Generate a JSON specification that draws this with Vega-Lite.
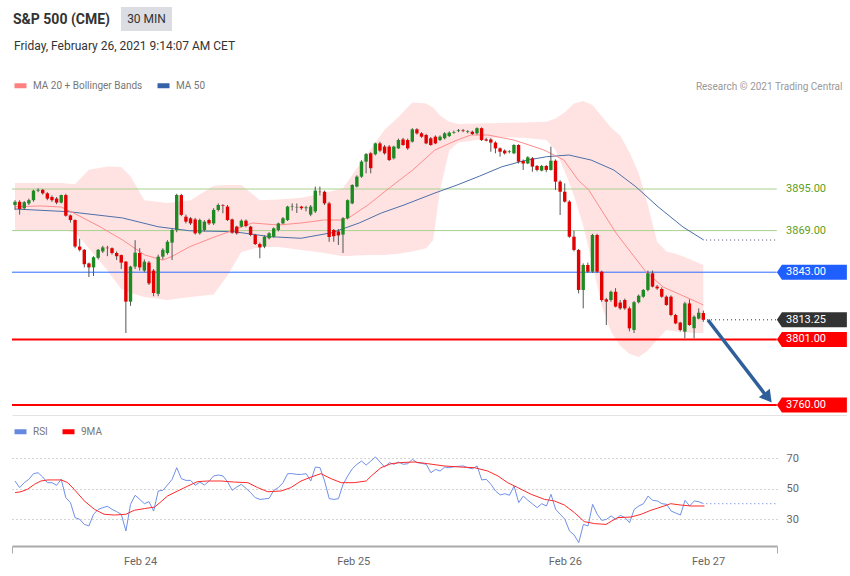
{
  "$schema": "https://vega.github.io/schema/vega-lite/v6.json",
  "background": "white",
  "padding": {"left": 11, "top": 7, "right": 0, "bottom": 0},
  "spacing": 8,
  "config": {"font": "Roboto", "view": {"stroke": null}},
  "resolve": {"scale": {"x": "independent", "y": "independent", "color": "independent"}, "legend": {"color": "independent"}},
  "datasets": {
    "candles": [
      {"i":0,"o":3885,"h":3888,"l":3882,"c":3887},
      {"i":1,"o":3887,"h":3888,"l":3879,"c":3882.5},
      {"i":2,"o":3883,"h":3887.5,"l":3882,"c":3886.7},
      {"i":3,"o":3886,"h":3889,"l":3885,"c":3888},
      {"i":4,"o":3888,"h":3894.5,"l":3887,"c":3894},
      {"i":5,"o":3894,"h":3895.5,"l":3893,"c":3894.5},
      {"i":6,"o":3894.5,"h":3895,"l":3891.5,"c":3892.3},
      {"i":7,"o":3892.3,"h":3893,"l":3888,"c":3889},
      {"i":8,"o":3890,"h":3891,"l":3887,"c":3888},
      {"i":9,"o":3889,"h":3890,"l":3885.5,"c":3886.5},
      {"i":10,"o":3886.5,"h":3891.5,"l":3886,"c":3891.2},
      {"i":11,"o":3891.2,"h":3892,"l":3877.7,"c":3878.3},
      {"i":12,"o":3878.5,"h":3879,"l":3874,"c":3875.6},
      {"i":13,"o":3875.6,"h":3876,"l":3858,"c":3859},
      {"i":14,"o":3859,"h":3864,"l":3856,"c":3857},
      {"i":15,"o":3857,"h":3857.5,"l":3846,"c":3848},
      {"i":16,"o":3848.5,"h":3849,"l":3840,"c":3846},
      {"i":17,"o":3846,"h":3853,"l":3840.6,"c":3852.3},
      {"i":18,"o":3852,"h":3857.5,"l":3851,"c":3857},
      {"i":19,"o":3856,"h":3859.5,"l":3855,"c":3858.5},
      {"i":20,"o":3858.3,"h":3859.5,"l":3853,"c":3858},
      {"i":21,"o":3858,"h":3858.5,"l":3854,"c":3855},
      {"i":22,"o":3855,"h":3856,"l":3850.6,"c":3853},
      {"i":23,"o":3853.7,"h":3854,"l":3845,"c":3849},
      {"i":24,"o":3849.6,"h":3850,"l":3805,"c":3824.6},
      {"i":25,"o":3824.6,"h":3847,"l":3822,"c":3846.5},
      {"i":26,"o":3846.5,"h":3863,"l":3845,"c":3855.2},
      {"i":27,"o":3855,"h":3858,"l":3844,"c":3846},
      {"i":28,"o":3844,"h":3851,"l":3843,"c":3849.6},
      {"i":29,"o":3849,"h":3850,"l":3835,"c":3836},
      {"i":30,"o":3844,"h":3845,"l":3828,"c":3830},
      {"i":31,"o":3829.5,"h":3854,"l":3828,"c":3852.7},
      {"i":32,"o":3852.7,"h":3858,"l":3851,"c":3857},
      {"i":33,"o":3855,"h":3863,"l":3854,"c":3862},
      {"i":34,"o":3861.5,"h":3870,"l":3850.6,"c":3869.4},
      {"i":35,"o":3869.4,"h":3892,"l":3868,"c":3891.25},
      {"i":36,"o":3891.2,"h":3892,"l":3878,"c":3878.8},
      {"i":37,"o":3877.7,"h":3879,"l":3873.5,"c":3874.6},
      {"i":38,"o":3876.7,"h":3877.5,"l":3872.5,"c":3873.5},
      {"i":39,"o":3876,"h":3877,"l":3866.5,"c":3867.3},
      {"i":40,"o":3867.3,"h":3876.5,"l":3866.5,"c":3875.6},
      {"i":41,"o":3869.4,"h":3875.5,"l":3868.5,"c":3874.6},
      {"i":42,"o":3875.6,"h":3876.5,"l":3872.5,"c":3873.5},
      {"i":43,"o":3873.5,"h":3883,"l":3872.5,"c":3881.9},
      {"i":44,"o":3881.9,"h":3886,"l":3881,"c":3885},
      {"i":45,"o":3885,"h":3885.5,"l":3879.8,"c":3884.6},
      {"i":46,"o":3884,"h":3885,"l":3875,"c":3875.6},
      {"i":47,"o":3876,"h":3876.5,"l":3867,"c":3867.7},
      {"i":48,"o":3871.5,"h":3872,"l":3866.5,"c":3867.3},
      {"i":49,"o":3871.5,"h":3876,"l":3871,"c":3875.2},
      {"i":50,"o":3875.2,"h":3876,"l":3871,"c":3871.9},
      {"i":51,"o":3871.5,"h":3872,"l":3865.5,"c":3866.25},
      {"i":52,"o":3866.25,"h":3867,"l":3860,"c":3860.6},
      {"i":53,"o":3860.6,"h":3861.5,"l":3851.7,"c":3858.5},
      {"i":54,"o":3859,"h":3866,"l":3858,"c":3865.2},
      {"i":55,"o":3864.2,"h":3868,"l":3863.5,"c":3867.3},
      {"i":56,"o":3865.2,"h":3871,"l":3864.5,"c":3870.4},
      {"i":57,"o":3869.4,"h":3874,"l":3868.5,"c":3873.5},
      {"i":58,"o":3873.5,"h":3877.5,"l":3873,"c":3876.7},
      {"i":59,"o":3875.6,"h":3884.5,"l":3875,"c":3884},
      {"i":60,"o":3884,"h":3886,"l":3881.5,"c":3884.3},
      {"i":61,"o":3883.5,"h":3886,"l":3880,"c":3883.8},
      {"i":62,"o":3884,"h":3884.5,"l":3882,"c":3883},
      {"i":63,"o":3883,"h":3884.5,"l":3881,"c":3883.5},
      {"i":64,"o":3879,"h":3885,"l":3878,"c":3884},
      {"i":65,"o":3881,"h":3896.5,"l":3880,"c":3894},
      {"i":66,"o":3893.3,"h":3896.5,"l":3891,"c":3893},
      {"i":67,"o":3893.3,"h":3894,"l":3885,"c":3886},
      {"i":68,"o":3886,"h":3887,"l":3862,"c":3865},
      {"i":69,"o":3869.4,"h":3870,"l":3862,"c":3865.5},
      {"i":70,"o":3868.5,"h":3870,"l":3860,"c":3866},
      {"i":71,"o":3866.5,"h":3877.5,"l":3855,"c":3876.7},
      {"i":72,"o":3876.7,"h":3888.5,"l":3876,"c":3888},
      {"i":73,"o":3886,"h":3898,"l":3885.5,"c":3897.5},
      {"i":74,"o":3896.5,"h":3903.5,"l":3896,"c":3902.7},
      {"i":75,"o":3902.7,"h":3913,"l":3902,"c":3912.1},
      {"i":76,"o":3912.1,"h":3917.5,"l":3904.8,"c":3916.8},
      {"i":77,"o":3917.3,"h":3918,"l":3904.8,"c":3908},
      {"i":78,"o":3916.7,"h":3924,"l":3916,"c":3923.5},
      {"i":79,"o":3923.5,"h":3924.5,"l":3918,"c":3919},
      {"i":80,"o":3921.5,"h":3922.5,"l":3916.5,"c":3917.3},
      {"i":81,"o":3921.5,"h":3922.5,"l":3912.5,"c":3913.1},
      {"i":82,"o":3914.2,"h":3922,"l":3913.5,"c":3921.5},
      {"i":83,"o":3920.4,"h":3926.5,"l":3920,"c":3925.6},
      {"i":84,"o":3926,"h":3927,"l":3922,"c":3922.5},
      {"i":85,"o":3925.6,"h":3926.5,"l":3919.5,"c":3920.4},
      {"i":86,"o":3924.6,"h":3933,"l":3924,"c":3932.3},
      {"i":87,"o":3932.3,"h":3933,"l":3929,"c":3929.8},
      {"i":88,"o":3929.8,"h":3930.5,"l":3927,"c":3927.7},
      {"i":89,"o":3928.75,"h":3929.5,"l":3923,"c":3923.5},
      {"i":90,"o":3926.7,"h":3927.5,"l":3922,"c":3922.5},
      {"i":91,"o":3927.7,"h":3928.5,"l":3923,"c":3923.5},
      {"i":92,"o":3925.6,"h":3928.5,"l":3925,"c":3927.7},
      {"i":93,"o":3926.7,"h":3930.5,"l":3926,"c":3929.8},
      {"i":94,"o":3928.1,"h":3931,"l":3927.5,"c":3930.2},
      {"i":95,"o":3930.2,"h":3931.5,"l":3929.5,"c":3930.6},
      {"i":96,"o":3931.2,"h":3932.5,"l":3930.5,"c":3931.7},
      {"i":97,"o":3931.6,"h":3932.5,"l":3930.5,"c":3931.2},
      {"i":98,"o":3930.8,"h":3931.8,"l":3929.8,"c":3931.2},
      {"i":99,"o":3930.8,"h":3931.5,"l":3928.8,"c":3929.4},
      {"i":100,"o":3929.8,"h":3933.5,"l":3929,"c":3933},
      {"i":101,"o":3933,"h":3933.5,"l":3925,"c":3925.6},
      {"i":102,"o":3926,"h":3927,"l":3924.8,"c":3925.2},
      {"i":103,"o":3926,"h":3926.8,"l":3918.3,"c":3924},
      {"i":104,"o":3924,"h":3924.8,"l":3917.3,"c":3920.4},
      {"i":105,"o":3920.4,"h":3921,"l":3915.2,"c":3918.3},
      {"i":106,"o":3919,"h":3919.8,"l":3916.5,"c":3917.3},
      {"i":107,"o":3918.3,"h":3919.3,"l":3917.3,"c":3918.7},
      {"i":108,"o":3917.3,"h":3923,"l":3916.8,"c":3922.5},
      {"i":109,"o":3922.5,"h":3923,"l":3911,"c":3912.1},
      {"i":110,"o":3912.5,"h":3913.5,"l":3906.9,"c":3911},
      {"i":111,"o":3911,"h":3915.5,"l":3910.5,"c":3914.8},
      {"i":112,"o":3914.2,"h":3915,"l":3905.8,"c":3909},
      {"i":113,"o":3909.4,"h":3910,"l":3906,"c":3906.9},
      {"i":114,"o":3906.5,"h":3910,"l":3906,"c":3909.4},
      {"i":115,"o":3909.4,"h":3910,"l":3905.5,"c":3906.9},
      {"i":116,"o":3906.9,"h":3921.5,"l":3906.5,"c":3912.7},
      {"i":117,"o":3912.7,"h":3913.5,"l":3894.4,"c":3899.6},
      {"i":118,"o":3899.6,"h":3900.5,"l":3878.75,"c":3893.3},
      {"i":119,"o":3893.3,"h":3898.5,"l":3886.5,"c":3887.1},
      {"i":120,"o":3887.1,"h":3888,"l":3864.5,"c":3865.2},
      {"i":121,"o":3865.2,"h":3869,"l":3856,"c":3856.9},
      {"i":122,"o":3856.9,"h":3857.5,"l":3829.8,"c":3831.9},
      {"i":123,"o":3831.9,"h":3848.5,"l":3820.4,"c":3847.5},
      {"i":124,"o":3847.5,"h":3849,"l":3842.5,"c":3843.3},
      {"i":125,"o":3843.3,"h":3867,"l":3842.5,"c":3866.25},
      {"i":126,"o":3866.25,"h":3867,"l":3842.5,"c":3843.3},
      {"i":127,"o":3843.3,"h":3844,"l":3824.5,"c":3825.6},
      {"i":128,"o":3826,"h":3827,"l":3810,"c":3824.6},
      {"i":129,"o":3825.6,"h":3831.5,"l":3824.5,"c":3830.8},
      {"i":130,"o":3830.8,"h":3833,"l":3821,"c":3821.5},
      {"i":131,"o":3824,"h":3825.6,"l":3819.5,"c":3820.4},
      {"i":132,"o":3825.6,"h":3826.5,"l":3819.5,"c":3820.4},
      {"i":133,"o":3820.4,"h":3821.5,"l":3806,"c":3807.9},
      {"i":134,"o":3806.9,"h":3825,"l":3805,"c":3824.2},
      {"i":135,"o":3824.2,"h":3829,"l":3823.5,"c":3828.3},
      {"i":136,"o":3827.7,"h":3832.5,"l":3827,"c":3831.9},
      {"i":137,"o":3831.9,"h":3844,"l":3831,"c":3842.3},
      {"i":138,"o":3842.3,"h":3844,"l":3833.5,"c":3834},
      {"i":139,"o":3834,"h":3835,"l":3832,"c":3832.9},
      {"i":140,"o":3832.5,"h":3833.5,"l":3827,"c":3827.7},
      {"i":141,"o":3827.7,"h":3828.5,"l":3822,"c":3822.5},
      {"i":142,"o":3827.7,"h":3828.5,"l":3815.5,"c":3816.25},
      {"i":143,"o":3816.25,"h":3817,"l":3810.5,"c":3811},
      {"i":144,"o":3811.5,"h":3812,"l":3806,"c":3806.9},
      {"i":145,"o":3805.8,"h":3824.5,"l":3801.7,"c":3823.5},
      {"i":146,"o":3823.5,"h":3826,"l":3809.5,"c":3810},
      {"i":147,"o":3808,"h":3816,"l":3801.7,"c":3815.2},
      {"i":148,"o":3814,"h":3820.4,"l":3813.5,"c":3817.7},
      {"i":149,"o":3817.5,"h":3819,"l":3812,"c":3813.25}
    ],
    "band": [
      {"i":0,"u":3898.75,"l":3869.4},{"i":5,"u":3898.75,"l":3869.4},{"i":10,"u":3898.75,"l":3869.4},
      {"i":13,"u":3898,"l":3868},{"i":16,"u":3907,"l":3858},{"i":20,"u":3909,"l":3844},
      {"i":23,"u":3908.75,"l":3832.5},{"i":25,"u":3903,"l":3830},{"i":28,"u":3888,"l":3827.5},
      {"i":33,"u":3886.25,"l":3825.6},{"i":38,"u":3888,"l":3827.5},{"i":43,"u":3897,"l":3829},
      {"i":46,"u":3897.5,"l":3841},{"i":49,"u":3897.5,"l":3855.6},{"i":53,"u":3888,"l":3858.75},
      {"i":57,"u":3888.5,"l":3858.75},{"i":62,"u":3889.5,"l":3856.9},{"i":67,"u":3892.5,"l":3855},
      {"i":71,"u":3895.5,"l":3853},{"i":74,"u":3908,"l":3853.5},{"i":77,"u":3920,"l":3853.75},
      {"i":80,"u":3932,"l":3853.75},{"i":83,"u":3940,"l":3854.5},{"i":86,"u":3949,"l":3856},
      {"i":89,"u":3948.5,"l":3858},{"i":90.5,"u":3946,"l":3863},{"i":92,"u":3941,"l":3894},
      {"i":94,"u":3937,"l":3919},{"i":96,"u":3935.6,"l":3924},{"i":100,"u":3936,"l":3925.6},
      {"i":105,"u":3936.25,"l":3927.5},{"i":110,"u":3936.5,"l":3927},{"i":115,"u":3937,"l":3925.6},
      {"i":117,"u":3939,"l":3919.4},{"i":119,"u":3943,"l":3906},{"i":121,"u":3948.5,"l":3891},
      {"i":123,"u":3950,"l":3872},{"i":125,"u":3947.5,"l":3848},{"i":127,"u":3940.5,"l":3822},
      {"i":129,"u":3933.5,"l":3806},{"i":131,"u":3928.5,"l":3797},{"i":133,"u":3918,"l":3792},
      {"i":135,"u":3905,"l":3790},{"i":137,"u":3885,"l":3794},{"i":139,"u":3862,"l":3801},
      {"i":141,"u":3856,"l":3806.9},{"i":143,"u":3854.5,"l":3806},{"i":145,"u":3852.5,"l":3805.5},
      {"i":147,"u":3850,"l":3805},{"i":149,"u":3847.5,"l":3805}
    ],
    "ma20": [
      {"i":0,"v":3883.9},{"i":5.6,"v":3884.4},{"i":10,"v":3883.75},{"i":12.7,"v":3880},
      {"i":18.4,"v":3871.4},{"i":23.3,"v":3863.1},{"i":28.1,"v":3853.75},{"i":32,"v":3850.6},
      {"i":33.9,"v":3852.7},{"i":37.8,"v":3858.9},{"i":42.6,"v":3864.4},{"i":47.4,"v":3869.4},
      {"i":51.3,"v":3873.75},{"i":57.1,"v":3872.5},{"i":61.9,"v":3873.75},{"i":66.8,"v":3875.6},
      {"i":70.6,"v":3875.6},{"i":72.5,"v":3877.5},{"i":76.4,"v":3885},{"i":81.3,"v":3896.25},
      {"i":86.1,"v":3906.9},{"i":90.9,"v":3919.4},{"i":95.7,"v":3925.6},{"i":98.7,"v":3928.75},
      {"i":102.4,"v":3928.75},{"i":108,"v":3925.6},{"i":114.5,"v":3919.4},{"i":118.8,"v":3913.1},
      {"i":121.9,"v":3900.6},{"i":124.2,"v":3894.4},{"i":130.1,"v":3867.5},{"i":136.6,"v":3843.1},
      {"i":140.3,"v":3833.75},{"i":148.1,"v":3823.75},{"i":149,"v":3822.5}
    ],
    "ma50": [
      {"i":0,"v":3882.5},{"i":11.7,"v":3880.8},{"i":23.3,"v":3876.9},{"i":31,"v":3871.4},
      {"i":37.8,"v":3868.9},{"i":47.4,"v":3868.3},{"i":55.2,"v":3865.2},{"i":61.9,"v":3864.2},
      {"i":68.6,"v":3867.7},{"i":74.5,"v":3873.75},{"i":79.3,"v":3880},{"i":84.2,"v":3885},
      {"i":90.9,"v":3892.5},{"i":95.7,"v":3897.5},{"i":100.6,"v":3903.1},{"i":105.4,"v":3908.9},
      {"i":110.2,"v":3912.7},{"i":115.1,"v":3915.2},{"i":119.9,"v":3916.25},{"i":124.7,"v":3913.1},
      {"i":129.6,"v":3906.9},{"i":134.4,"v":3896.4},{"i":139.2,"v":3883.9},{"i":144.6,"v":3871.25},
      {"i":149.1,"v":3863.1}
    ],
    "levels": [
      {"level":3895},{"level":3869},{"level":3843},{"level":3813.25},{"level":3801},{"level":3760}
    ],
    "arrow": [{"i":150.0,"p":3813.1},{"i":162.3,"p":3766.9}],
    "arrowhead": [{"i":163.0,"p":3764.5}],
    "rsi": [
      {"i":0,"v":55.0},{"i":1,"v":50.7},{"i":2,"v":53.9},{"i":3,"v":56.1},{"i":4,"v":59.8},
      {"i":5,"v":60.4},{"i":6,"v":57.6},{"i":7,"v":53.9},{"i":8,"v":53.9},{"i":9,"v":52.2},
      {"i":10,"v":56.1},{"i":11,"v":44.1},{"i":12,"v":40.9},{"i":13,"v":31.1},{"i":14,"v":30.0},
      {"i":15,"v":26.7},{"i":16,"v":25.7},{"i":17,"v":33.3},{"i":18,"v":36.5},{"i":19,"v":37.6},
      {"i":20,"v":38.5},{"i":21,"v":36.5},{"i":22,"v":35.0},{"i":23,"v":33.3},{"i":24,"v":22.4},
      {"i":25,"v":39.8},{"i":26,"v":45.7},{"i":27,"v":43.0},{"i":28,"v":40.2},{"i":29,"v":41.5},
      {"i":30,"v":35.4},{"i":31,"v":48.5},{"i":32,"v":48.9},{"i":33,"v":52.4},{"i":34,"v":56.1},
      {"i":35,"v":63.7},{"i":36,"v":56.5},{"i":37,"v":55.4},{"i":38,"v":55.4},{"i":39,"v":52.2},
      {"i":40,"v":54.3},{"i":41,"v":52.4},{"i":42,"v":55.0},{"i":43,"v":58.3},{"i":44,"v":58.9},
      {"i":45,"v":58.3},{"i":46,"v":54.5},{"i":47,"v":48.9},{"i":48,"v":51.1},{"i":49,"v":52.8},
      {"i":50,"v":50.2},{"i":51,"v":47.4},{"i":52,"v":44.1},{"i":53,"v":43.0},{"i":54,"v":43.3},
      {"i":55,"v":43.7},{"i":56,"v":48.9},{"i":57,"v":50.7},{"i":58,"v":53.9},{"i":59,"v":59.8},
      {"i":60,"v":59.8},{"i":61,"v":59.3},{"i":62,"v":59.3},{"i":63,"v":59.8},{"i":64,"v":55.0},
      {"i":65,"v":64.1},{"i":66,"v":63.7},{"i":67,"v":55.0},{"i":68,"v":43.5},{"i":69,"v":43.0},
      {"i":70,"v":43.5},{"i":71,"v":52.8},{"i":72,"v":58.3},{"i":73,"v":63.0},{"i":74,"v":65.9},
      {"i":75,"v":68.0},{"i":76,"v":65.4},{"i":77,"v":68.0},{"i":78,"v":70.7},{"i":79,"v":67.4},
      {"i":80,"v":64.1},{"i":81,"v":67.0},{"i":82,"v":65.9},{"i":83,"v":67.4},{"i":84,"v":65.9},
      {"i":85,"v":66.3},{"i":86,"v":69.1},{"i":87,"v":67.0},{"i":88,"v":66.5},{"i":89,"v":65.9},
      {"i":90,"v":60.4},{"i":91,"v":62.6},{"i":92,"v":61.5},{"i":93,"v":64.1},{"i":94,"v":63.7},
      {"i":95,"v":64.3},{"i":96,"v":64.6},{"i":97,"v":64.8},{"i":98,"v":63.7},{"i":99,"v":63.0},
      {"i":100,"v":64.8},{"i":101,"v":55.7},{"i":102,"v":56.1},{"i":103,"v":52.8},{"i":104,"v":48.5},
      {"i":105,"v":45.9},{"i":106,"v":46.7},{"i":107,"v":45.7},{"i":108,"v":51.7},{"i":109,"v":40.9},
      {"i":110,"v":45.2},{"i":111,"v":42.4},{"i":112,"v":40.0},{"i":113,"v":37.6},{"i":114,"v":40.2},
      {"i":115,"v":38.7},{"i":116,"v":46.3},{"i":117,"v":36.5},{"i":118,"v":33.3},{"i":119,"v":30.0},
      {"i":120,"v":22.4},{"i":121,"v":19.8},{"i":122,"v":14.8},{"i":123,"v":26.7},{"i":124,"v":25.7},
      {"i":125,"v":39.8},{"i":126,"v":33.3},{"i":127,"v":29.3},{"i":128,"v":30.0},{"i":129,"v":32.2},
      {"i":130,"v":30.0},{"i":131,"v":32.6},{"i":132,"v":31.1},{"i":133,"v":27.8},{"i":134,"v":36.5},
      {"i":135,"v":38.7},{"i":136,"v":40.2},{"i":137,"v":45.2},{"i":138,"v":42.4},{"i":139,"v":42.0},
      {"i":140,"v":40.2},{"i":141,"v":39.8},{"i":142,"v":35.4},{"i":143,"v":34.1},{"i":144,"v":32.8},
      {"i":145,"v":42.4},{"i":146,"v":38.7},{"i":147,"v":42.0},{"i":148,"v":41.5},{"i":149,"v":40.2}
    ],
    "rsima": [
      {"i":0,"v":47.4},{"i":1.3,"v":48.0},{"i":2.7,"v":49.6},{"i":4.2,"v":52.8},{"i":5.6,"v":55.0},
      {"i":7.1,"v":55.7},{"i":8.5,"v":55.7},{"i":10,"v":55.7},{"i":11.4,"v":53.9},{"i":12.8,"v":49.6},
      {"i":15,"v":42.0},{"i":17.2,"v":36.5},{"i":19.3,"v":33.3},{"i":21.5,"v":32.8},{"i":24,"v":33.3},
      {"i":25.8,"v":35.9},{"i":28,"v":37.0},{"i":30.2,"v":38.0},{"i":31.6,"v":41.5},{"i":33,"v":45.2},
      {"i":35.2,"v":48.5},{"i":37.4,"v":51.7},{"i":39.5,"v":54.6},{"i":41.7,"v":55.0},{"i":44.6,"v":55.0},
      {"i":47.5,"v":54.3},{"i":50.4,"v":53.9},{"i":52.5,"v":50.7},{"i":54.7,"v":48.0},{"i":57.6,"v":48.5},
      {"i":59.7,"v":50.7},{"i":61.9,"v":55.0},{"i":64.1,"v":57.6},{"i":66.2,"v":59.8},{"i":68.4,"v":56.5},
      {"i":70.6,"v":53.9},{"i":73.4,"v":53.9},{"i":76,"v":55.0},{"i":77.1,"v":58.3},{"i":79.2,"v":63.7},
      {"i":81.4,"v":66.3},{"i":83.5,"v":67.0},{"i":86.4,"v":67.4},{"i":89.3,"v":66.3},{"i":92.9,"v":64.8},
      {"i":96.5,"v":64.1},{"i":99.4,"v":63.7},{"i":102.3,"v":61.5},{"i":104.5,"v":58.3},{"i":106.6,"v":53.9},
      {"i":108.8,"v":50.7},{"i":111.7,"v":46.3},{"i":114.6,"v":43.0},{"i":116.7,"v":42.0},{"i":118.9,"v":39.3},
      {"i":121.1,"v":34.3},{"i":123.2,"v":28.5},{"i":125.4,"v":27.2},{"i":127.9,"v":26.7},{"i":130.4,"v":31.1},
      {"i":133.3,"v":31.5},{"i":135.5,"v":33.3},{"i":137.6,"v":35.9},{"i":139.8,"v":38.0},{"i":141.9,"v":40.2},
      {"i":144.1,"v":39.3},{"i":146.3,"v":38.7},{"i":149.2,"v":38.7}
    ]
  },
  "vconcat": [
    {
      "spacing": 10,
      "hconcat": [
        {
          "width": 2, "height": 25,
          "data": {"values": [{"t": "S&P 500 (CME)"}]},
          "mark": {"type": "text", "align": "left", "baseline": "middle", "fontSize": 14, "fontWeight": "bold", "color": "#333333"},
          "encoding": {"text": {"field": "t", "type": "nominal"}}
        },
        {
          "width": 51, "height": 24,
          "view": {"fill": "#dcdde2", "stroke": null},
          "data": {"values": [{"t": "30 MIN"}]},
          "mark": {"type": "text", "align": "center", "baseline": "middle", "fontSize": 12, "color": "#333333"},
          "encoding": {"text": {"field": "t", "type": "nominal"}}
        }
      ]
    },
    {
      "width": 835, "height": 320,
      "title": {"text": "Friday, February 26, 2021 9:14:07 AM CET", "anchor": "start", "frame": "group", "offset": 24, "dx": 2,
                "fontSize": 12, "fontWeight": "normal", "color": "#333333"},
      "resolve": {"axis": {"x": "independent"}},
      "layer": [
        {
          "data": {"name": "band"},
          "mark": {"type": "area", "color": "#ffe3e3"},
          "encoding": {
            "x": {"field": "i", "type": "quantitative", "scale": {"domain": [-0.65, 180.1], "nice": false, "zero": false, "padding": 0},
                  "axis": {"orient": "top", "labels": false, "ticks": false, "domain": false, "grid": false,
                           "title": "Research © 2021 Trading Central", "titleFontSize": 10, "titleFontWeight": "normal",
                           "titleColor": "#999999", "titleAnchor": "end", "titleAlign": "right", "titleX": 830, "titleY": -9, "titleBaseline": "middle"}},
            "y": {"field": "u", "type": "quantitative", "scale": {"domain": [3753.75, 3953.75], "nice": false, "zero": false, "padding": 0}, "axis": null},
            "y2": {"field": "l"}
          }
        },
        {
          "data": {"name": "levels"},
          "transform": [{"filter": "datum.level == 3895 || datum.level == 3869"}],
          "mark": {"type": "rule", "color": "#a9d18e", "strokeWidth": 1},
          "encoding": {
            "x": {"datum": -0.65, "type": "quantitative", "axis": null},
            "x2": {"datum": 164.9},
            "y": {"field": "level", "type": "quantitative", "axis": null}
          }
        },
        {
          "data": {"name": "levels"},
          "transform": [{"filter": "datum.level == 3843"}],
          "mark": {"type": "rule", "color": "#2b6cff", "strokeWidth": 1},
          "encoding": {
            "x": {"datum": -0.65, "type": "quantitative", "axis": null},
            "x2": {"datum": 164.9},
            "y": {"field": "level", "type": "quantitative", "axis": null}
          }
        },
        {
          "data": {"name": "levels"},
          "transform": [{"filter": "datum.level == 3801 || datum.level == 3760"}],
          "mark": {"type": "rule", "color": "#ff0000", "strokeWidth": 2},
          "encoding": {
            "x": {"datum": -0.65, "type": "quantitative", "axis": null},
            "x2": {"datum": 164.9},
            "y": {"field": "level", "type": "quantitative", "axis": null}
          }
        },
        {
          "data": {"name": "levels"},
          "transform": [{"filter": "datum.level == 3813.25"}],
          "mark": {"type": "rule", "color": "#333333", "strokeWidth": 1, "strokeDash": [1, 3]},
          "encoding": {
            "x": {"datum": 149.8, "type": "quantitative", "axis": null},
            "x2": {"datum": 164.9},
            "y": {"field": "level", "type": "quantitative", "axis": null}
          }
        },
        {
          "data": {"name": "ma50"},
          "mark": {"type": "line", "color": "#4d6fa8", "strokeWidth": 1},
          "encoding": {
            "x": {"field": "i", "type": "quantitative", "axis": null},
            "y": {"field": "v", "type": "quantitative", "axis": null}
          }
        },
        {
          "data": {"name": "ma50"},
          "transform": [{"filter": "datum.i > 149"}],
          "mark": {"type": "rule", "color": "#44506a", "strokeWidth": 1, "strokeDash": [1, 3]},
          "encoding": {
            "x": {"datum": 149.6, "type": "quantitative", "axis": null},
            "x2": {"datum": 164.9},
            "y": {"field": "v", "type": "quantitative", "axis": null}
          }
        },
        {
          "data": {"name": "ma20"},
          "mark": {"type": "line", "color": "#ff8c8c", "strokeWidth": 1},
          "encoding": {
            "x": {"field": "i", "type": "quantitative", "axis": null},
            "y": {"field": "v", "type": "quantitative", "axis": null}
          }
        },
        {
          "data": {"name": "candles"},
          "mark": {"type": "rule", "color": "#555555", "strokeWidth": 1},
          "encoding": {
            "x": {"field": "i", "type": "quantitative",
                  "axis": {"orient": "bottom", "labels": false, "ticks": false, "grid": false, "title": null, "domainColor": "#e3e3e3", "domainWidth": 1}},
            "y": {"field": "l", "type": "quantitative", "axis": null},
            "y2": {"field": "h"}
          }
        },
        {
          "data": {"name": "candles"},
          "mark": {"type": "bar", "size": 3.4},
          "encoding": {
            "x": {"field": "i", "type": "quantitative", "axis": null},
            "y": {"field": "o", "type": "quantitative", "axis": null},
            "y2": {"field": "c"},
            "color": {"condition": {"test": "datum.c >= datum.o", "value": "#1f8a24"}, "value": "#e30000"}
          }
        },
        {
          "data": {"name": "arrow"},
          "mark": {"type": "line", "color": "#2f5f9a", "strokeWidth": 3.5},
          "encoding": {
            "x": {"field": "i", "type": "quantitative", "axis": null},
            "y": {"field": "p", "type": "quantitative", "axis": null}
          }
        },
        {
          "data": {"name": "arrowhead"},
          "mark": {"type": "point", "shape": "triangle-up", "filled": true, "opacity": 1, "size": 190, "angle": 142, "color": "#2f5f9a"},
          "encoding": {
            "x": {"field": "i", "type": "quantitative", "axis": null},
            "y": {"field": "p", "type": "quantitative", "axis": null}
          }
        },
        {
          "data": {"name": "levels"},
          "transform": [{"filter": "datum.level != 3895 && datum.level != 3869"}],
          "mark": {"type": "point", "shape": "M-1,0L-0.857,-0.214L1,-0.214L1,0.214L-0.857,0.214Z", "filled": true, "opacity": 1, "size": 4900, "strokeWidth": 0},
          "encoding": {
            "x": {"datum": 172.5, "type": "quantitative", "axis": null},
            "y": {"field": "level", "type": "quantitative", "axis": null},
            "color": {"condition": [
              {"test": "datum.level == 3843", "value": "#1f5eff"},
              {"test": "datum.level == 3813.25", "value": "#333333"}
            ], "value": "#ff0000"}
          }
        },
        {
          "data": {"name": "levels"},
          "mark": {"type": "text", "align": "left", "baseline": "middle", "fontSize": 11},
          "encoding": {
            "x": {"datum": 166.9, "type": "quantitative", "axis": null},
            "y": {"field": "level", "type": "quantitative", "axis": null},
            "text": {"field": "level", "type": "quantitative", "format": ".2f"},
            "color": {"condition": {"test": "datum.level == 3895 || datum.level == 3869", "value": "#5f9e22"}, "value": "#ffffff"}
          }
        },
        {
          "data": {"values": []},
          "mark": {"type": "rule", "strokeWidth": 5},
          "encoding": {
            "x": {"field": "i", "type": "quantitative", "axis": null},
            "y": {"field": "v", "type": "quantitative", "axis": null},
            "color": {"field": "s", "type": "nominal",
                      "scale": {"domain": ["MA 20 + Bollinger Bands", "MA 50"], "range": ["#ff8080", "#3563a8"]},
                      "legend": {"orient": "none", "legendX": 0, "legendY": -18, "direction": "horizontal", "title": null,
                                 "symbolType": "stroke", "symbolSize": 144, "symbolStrokeWidth": 5,
                                 "labelFontSize": 10, "labelColor": "#777777", "columnPadding": 4, "labelOffset": 4}}
          }
        }
      ]
    },
    {
      "width": 765, "height": 95,
      "layer": [
        {
          "data": {"name": "rsi"},
          "mark": {"type": "line", "color": "#7090e8", "strokeWidth": 1},
          "encoding": {
            "x": {"field": "i", "type": "quantitative", "scale": {"domain": [-0.65, 164.9], "nice": false, "zero": false, "padding": 0},
                  "axis": {"orient": "bottom", "values": [-0.65, 27.06, 73.2, 119, 150, 164.9],
                           "labelExpr": "datum.value < 0 || datum.value > 160 ? '' : datum.value < 50 ? 'Feb 24' : datum.value < 100 ? 'Feb 25' : datum.value < 130 ? 'Feb 26' : 'Feb 27'",
                           "domainColor": "#aaaaaa", "domainWidth": 2, "tickColor": "#aaaaaa", "tickSize": 7,
                           "tickOpacity": {"condition": {"test": "datum.value < 0 || datum.value > 160", "value": 1}, "value": 0},
                           "labelColor": "#666666", "labelFontSize": 11, "labelPadding": 2, "labelOverlap": false, "labelFlush": false,
                           "grid": false, "title": null}},
            "y": {"field": "v", "type": "quantitative", "scale": {"domain": [12.6, 74.57], "nice": false, "zero": false},
                  "axis": {"orient": "right", "values": [30, 50, 70], "grid": true, "gridDash": [1, 3], "gridColor": "#aaaaaa",
                           "domain": false, "ticks": false, "labelPadding": 9, "labelColor": "#666666", "labelFontSize": 11, "title": null}}
          }
        },
        {
          "data": {"name": "rsima"},
          "mark": {"type": "line", "color": "#ff2a2a", "strokeWidth": 1},
          "encoding": {
            "x": {"field": "i", "type": "quantitative"},
            "y": {"field": "v", "type": "quantitative"}
          }
        },
        {
          "data": {"name": "rsi"},
          "transform": [{"filter": "datum.i == 149"}],
          "mark": {"type": "rule", "color": "#5577cc", "strokeWidth": 1, "strokeDash": [1, 3]},
          "encoding": {
            "x": {"datum": 149.6, "type": "quantitative"},
            "x2": {"datum": 164.9},
            "y": {"field": "v", "type": "quantitative"}
          }
        },
        {
          "data": {"values": []},
          "mark": {"type": "rule", "strokeWidth": 5},
          "encoding": {
            "x": {"field": "i", "type": "quantitative"},
            "y": {"field": "v", "type": "quantitative"},
            "color": {"field": "s", "type": "nominal",
                      "scale": {"domain": ["RSI", "9MA"], "range": ["#6688e0", "#ff0000"]},
                      "legend": {"orient": "none", "legendX": 0, "legendY": -28, "direction": "horizontal", "title": null,
                                 "symbolType": "stroke", "symbolSize": 144, "symbolStrokeWidth": 5,
                                 "labelFontSize": 10, "labelColor": "#777777", "columnPadding": 4, "labelOffset": 4}}
          }
        }
      ]
    }
  ]
}
